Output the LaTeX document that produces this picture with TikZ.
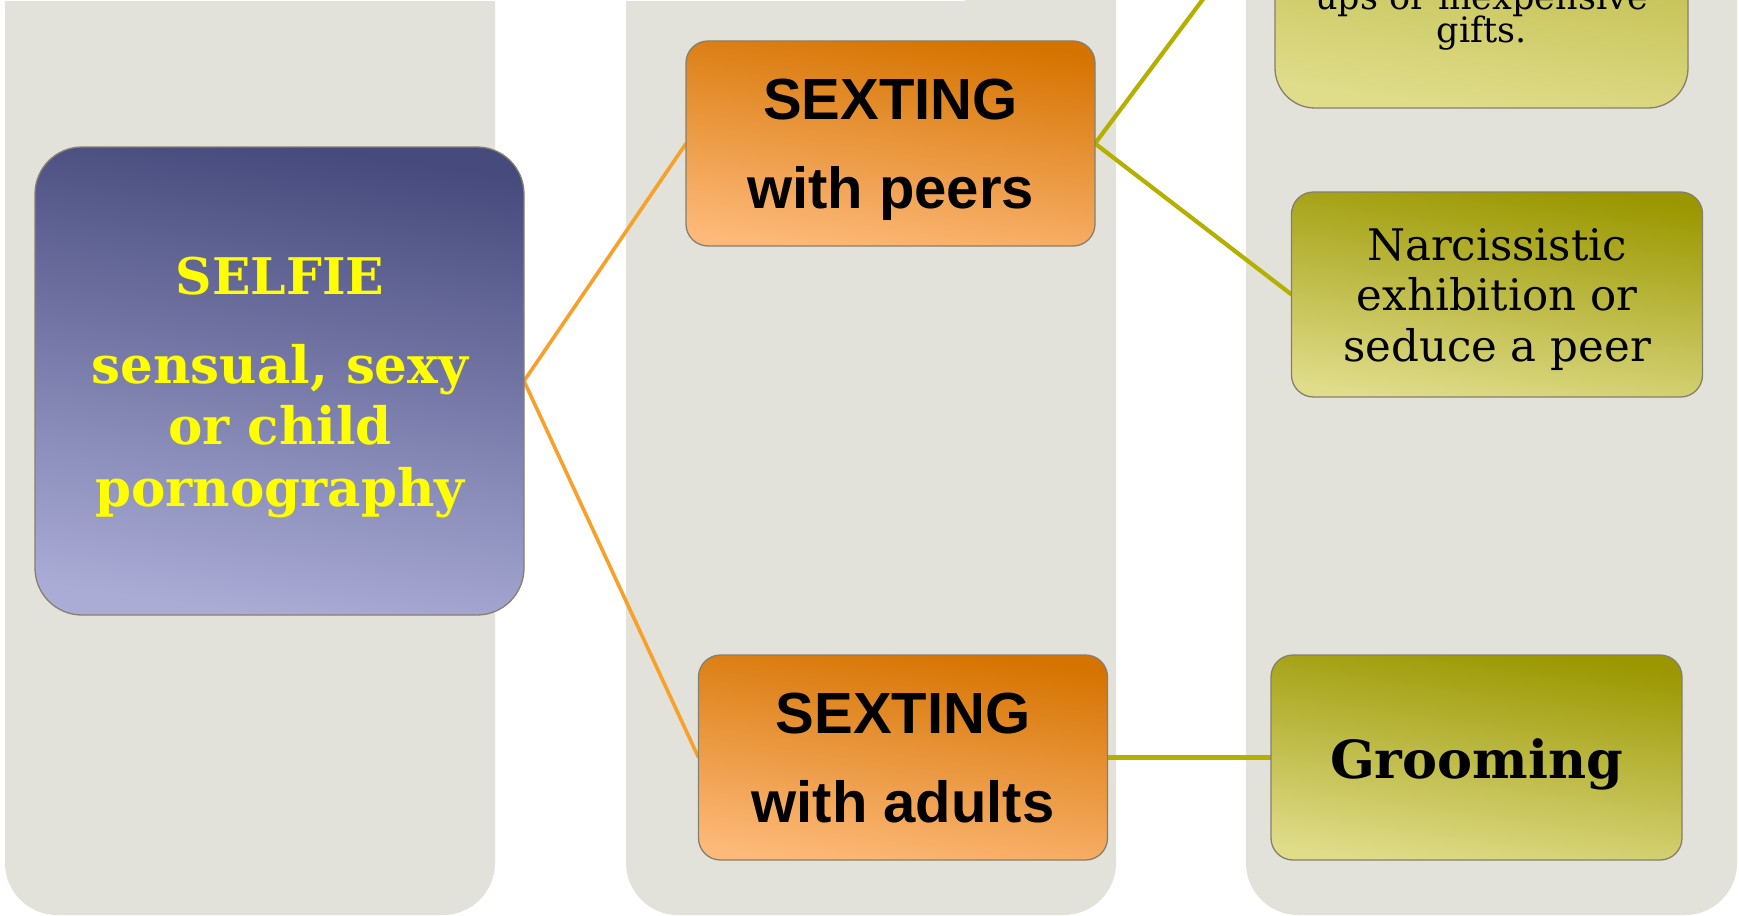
\documentclass[tikz,border=0pt]{standalone}
\usepackage{fontspec}
\newfontfamily\rockf{DejaVu Serif}
\newfontfamily\arialf{Liberation Sans}
\pgfdeclarelayer{back}
\pgfdeclarelayer{mid}
\pgfsetlayers{back,mid,main}
\definecolor{panelgray}{HTML}{E2E2DA}
\definecolor{selfietop}{HTML}{464A7C}
\definecolor{selfiebot}{HTML}{AAACD6}
\definecolor{orgtop}{HTML}{D57300}
\definecolor{orgbot}{HTML}{FDB979}
\definecolor{olvtop}{HTML}{9A9700}
\definecolor{olvbot}{HTML}{DFDC8A}
\definecolor{orgline}{HTML}{F7A02A}
\definecolor{olvline}{HTML}{B4B000}
\definecolor{boxedge}{HTML}{85806E}
\definecolor{txtyellow}{HTML}{FFFF00}
\tikzset{
  panel/.style={fill=panelgray, rounded corners=52pt},
  boxbase/.style={draw=boxedge, line width=1.3pt, inner sep=0pt, outer sep=0pt},
  selfiebox/.style={boxbase, rounded corners=47pt, minimum width=489pt, minimum height=468pt,
    top color=selfietop, bottom color=selfiebot, shading angle=-8},
  orgbox/.style={boxbase, rounded corners=22pt, minimum width=409pt, minimum height=205pt,
    top color=orgtop, bottom color=orgbot, shading angle=-8},
  olvbox/.style={boxbase, rounded corners=22pt, minimum width=411pt, minimum height=205pt,
    top color=olvtop, bottom color=olvbot, shading angle=-8},
  tallbox/.style={boxbase, rounded corners=40pt, minimum width=413pt, minimum height=410pt,
    top color=olvtop, bottom color=olvbot, shading angle=-8},
  orgconn/.style={draw=orgline, line width=3.6pt},
  olvconn/.style={draw=olvline, line width=4.2pt},
  txtbase/.style={anchor=base, inner sep=0pt, outer sep=0pt},
  selfiehead/.style={txtbase, text=txtyellow, font=\rockf\bfseries\fontsize{50.5}{50.5}\selectfont},
  selfietxt/.style={txtbase, text=txtyellow, font=\rockf\bfseries\fontsize{51.5}{51.5}\selectfont},
  sextxt/.style={txtbase, text=black, font=\arialf\bfseries\fontsize{58}{58}\selectfont},
  narctxt/.style={txtbase, text=black, font=\rockf\fontsize{43.5}{43.5}\selectfont},
  toptxt/.style={txtbase, text=black, font=\rockf\fontsize{35}{35}\selectfont},
  groomtxt/.style={txtbase, text=black, font=\rockf\bfseries\fontsize{52.5}{52.5}\selectfont},
}
\begin{document}
\begin{tikzpicture}[x=1pt, y=-1pt]
\useasboundingbox (0,0) rectangle (1739,915);
\clip (0,0) rectangle (1739,915);
\begin{pgfonlayer}{back}
  \fill[white] (0,0) rectangle (1739,915);
  \fill[panel] (5,-200) rectangle (495,915);
  \fill[panel] (626,-200) rectangle (1116,915);
  \fill[panel] (1246,-200) rectangle (1737,915);
  \fill[white] (0,0) rectangle (965,1.2);
\end{pgfonlayer}

% boxes
\node[selfiebox] (selfie) at (279.5,381) {};
\node[orgbox] (peers) at (890.5,143.5) {};
\node[orgbox] (adults) at (903,757.5) {};
\node[tallbox] (topbox) at (1481.5,-97) {};
\node[olvbox] (narc) at (1497,294.5) {};
\node[olvbox] (groom) at (1476.5,757.5) {};

% texts
\node[selfiehead] (s1) at (280,294) {SELFIE};
\node[selfietxt] (s2) at (280,383) {sensual, sexy};
\node[selfietxt] (s3) at (280,444) {or child};
\node[selfietxt] (s4) at (280,506) {pornography};

\node[sextxt] (p1) at (890.5,120) {SEXTING};
\node[sextxt] (p2) at (890.5,208) {with peers};

\node[sextxt] (a1) at (903,733) {SEXTING};
\node[sextxt] (a2) at (903,822) {with adults};

\node[toptxt] (t1) at (1481.5,10) {ups or inexpensive};
\node[toptxt] (t2) at (1481.5,43) {gifts.};

\node[narctxt] (n1) at (1497,260) {Narcissistic};
\node[narctxt] (n2) at (1497,310) {exhibition or};
\node[narctxt] (n3) at (1497,361) {seduce a peer};

\node[groomtxt] (g1) at (1476.5,778) {Grooming};

% connectors
\begin{pgfonlayer}{mid}
  \draw[orgconn] (selfie.east) -- (peers.west);
  \draw[orgconn] (selfie.east) -- (adults.west);
  \draw[olvconn] (peers.east) -- (topbox.west);
  \draw[olvconn] (peers.east) -- (narc.west);
  \draw[olvconn] (adults.east) -- (groom.west);
\end{pgfonlayer}
\end{tikzpicture}
\end{document}
